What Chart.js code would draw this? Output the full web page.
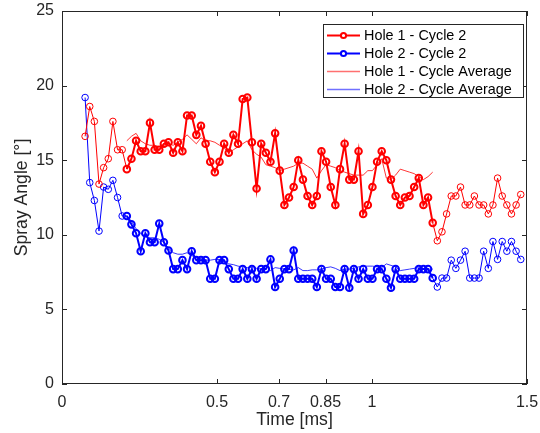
<!DOCTYPE html>
<html>
<head>
<meta charset="utf-8">
<script src="https://cdn.jsdelivr.net/npm/chart.js@4.4.0/dist/chart.umd.min.js"></script>
<style>
html, body { margin: 0; padding: 0; background: #fff; }
canvas { display: block; }
</style>
</head>
<body>
<canvas id="sprayChart" width="540" height="433"></canvas>
<script>
// sample times [ms]
var timeMs = [
  0.0745, 0.0895, 0.1044, 0.1194, 0.1343, 0.1493, 0.1642, 0.1792, 0.1941, 0.2091,
  0.2240, 0.2390, 0.2539, 0.2689, 0.2838, 0.2988, 0.3137, 0.3287, 0.3436, 0.3586,
  0.3735, 0.3885, 0.4034, 0.4184, 0.4333, 0.4483, 0.4632, 0.4782, 0.4931, 0.5081,
  0.5230, 0.5380, 0.5529, 0.5679, 0.5828, 0.5978, 0.6127, 0.6277, 0.6426, 0.6576,
  0.6725, 0.6875, 0.7024, 0.7174, 0.7323, 0.7473, 0.7622, 0.7772, 0.7921, 0.8071,
  0.8220, 0.8370, 0.8519, 0.8669, 0.8818, 0.8968, 0.9117, 0.9267, 0.9416, 0.9566,
  0.9715, 0.9865, 1.0014, 1.0164, 1.0313, 1.0463, 1.0612, 1.0762, 1.0911, 1.1061,
  1.1210, 1.1360, 1.1509, 1.1659, 1.1808, 1.1958, 1.2107, 1.2257, 1.2406, 1.2556,
  1.2705, 1.2855, 1.3004, 1.3154, 1.3303, 1.3453, 1.3602, 1.3752, 1.3901, 1.4051,
  1.4200, 1.4350, 1.4499, 1.4649, 1.4798
];

var hole1Cycle2 = [
  16.6, 18.6, 17.6, 13.4, 14.5, 15.1, 17.6, 15.7, 15.7, 14.4,
  15.1, 16.3, 15.6, 15.6, 17.5, 15.7, 15.7, 16.1, 16.2, 15.5,
  16.2, 15.6, 18.0, 18.0, 16.7, 17.3, 16.1, 14.9, 14.2, 14.9,
  16.1, 15.5, 16.7, 16.1, 19.1, 19.2, 16.2, 13.1, 16.1, 15.5,
  14.9, 16.8, 14.3, 12.0, 12.5, 13.2, 15.0, 13.7, 12.6, 12.0,
  12.6, 15.6, 14.9, 13.2, 12.0, 14.4, 16.1, 13.7, 13.7, 15.6,
  11.4, 12.0, 13.2, 14.9, 15.6, 15.0, 13.7, 12.6, 12.0, 12.5,
  12.6, 13.2, 13.8, 12.0, 12.5, 10.8, 9.6, 10.2, 11.4, 12.6,
  12.6, 13.2, 12.0, 12.0, 12.6, 12.0, 12.0, 11.4, 12.0, 13.8,
  12.6, 12.0, 11.4, 12.0, 12.7
];

var hole2Cycle2 = [
  19.2, 13.5, 12.3, 10.25, 13.2, 13.05, 13.65, 12.5, 11.26, 11.26,
  10.7, 10.1, 8.9, 10.1, 9.5, 9.5, 10.75, 9.5, 8.95, 7.7,
  7.7, 8.3, 7.7, 8.9, 8.3, 8.3, 8.3, 7.05, 7.05, 8.3,
  8.3, 7.7, 7.05, 7.05, 7.7, 7.05, 7.7, 7.05, 7.7, 7.7,
  8.35, 6.5, 7.05, 7.7, 7.7, 8.95, 7.05, 7.05, 7.05, 7.05,
  6.5, 7.7, 7.05, 7.05, 6.5, 6.5, 7.7, 6.45, 7.7, 7.05,
  7.7, 7.05, 7.05, 7.7, 7.7, 7.05, 6.45, 7.7, 7.05, 7.05,
  7.05, 7.05, 7.7, 7.7, 7.7, 7.1, 6.5, 7.1, 7.1, 8.3,
  7.75, 8.3, 8.9, 7.1, 7.1, 7.1, 8.9, 7.75, 9.55, 8.35,
  9.55, 8.9, 9.55, 8.9, 8.35
];

// averaging window (sample indices) - drawn bold on the cycle traces
var windowFrom = 9;
var windowTo = 75;

var hole1Average = [
  16.3, 16.6, 16.8, 16.3, 16.1, 16.0, 16.0, 15.9, 16.0, 16.1,
  16.0, 16.2, 16.4, 16.7, 16.4, 16.1, 16.5, 16.3, 16.3, 16.2,
  16.0, 15.8, 15.5, 15.7, 15.9, 16.1, 16.3, 15.7, 15.4, 15.2,
  14.7, 14.6, 14.5, 14.3, 14.4, 14.5, 14.6, 14.8, 14.8, 14.6,
  14.4, 13.8, 14.3, 14.7, 14.6, 14.5, 14.3, 14.2, 14.1, 14.0,
  14.0, 14.0, 14.3, 14.3, 14.7, 15.1, 13.8, 13.7, 14.0, 14.4,
  14.3, 14.2, 14.1, 13.9, 13.7, 13.9, 14.2
];

var hole2Average = [
  11.3, 10.9, 10.4, 10.1, 9.9, 9.8, 9.8, 9.7, 9.5, 9.1,
  8.8, 8.7, 8.7, 8.8, 8.6, 8.5, 8.4, 8.3, 8.3, 8.35,
  8.35, 8.2, 8.05, 8.0, 7.9, 7.85, 7.8, 7.8, 7.75, 7.7,
  7.9, 7.6, 7.8, 7.75, 7.7, 7.7, 7.65, 7.8, 7.6, 7.6,
  7.65, 7.65, 7.7, 7.8, 7.85, 7.75, 7.6, 7.7, 7.7, 7.75,
  7.85, 7.9, 7.9, 7.9, 7.85, 7.8, 8.05, 7.95, 7.85, 7.6,
  7.65, 7.7, 7.75, 7.8, 7.75, 7.7, 7.7
];

var seriesLabels = ['Hole 1 - Cycle 2', 'Hole 2 - Cycle 2', 'Hole 1 - Cycle Average', 'Hole 2 - Cycle Average'];
var xTickValues = [0, 0.5, 0.7, 0.85, 1, 1.5];
var yTickValues = [0, 5, 10, 15, 20, 25];

var axisColor = '#262626';
var fontFamily = '"Liberation Sans", Arial, Helvetica, sans-serif';

function toPoints(times, values) {
    return values.map(function (v, i) { return { x: times[i], y: v }; });
}
function inWindow(i) { return i >= windowFrom && i <= windowTo; }

var avgTimes = timeMs.slice(windowFrom, windowTo + 1);

function cycleDataset(label, values, color) {
    return {
        label: label,
        data: toPoints(timeMs, values),
        borderColor: color,
        backgroundColor: 'transparent',
        borderWidth: 1,
        segment: {
            borderWidth: function (c) { return inWindow(c.p0DataIndex) && inWindow(c.p1DataIndex) ? 2 : 1; }
        },
        pointStyle: 'circle',
        pointRadius: 3.3,
        pointBorderColor: color,
        pointBackgroundColor: 'transparent',
        pointBorderWidth: function (c) { return inWindow(c.dataIndex) ? 2 : 1; },
        marker: true,
        legendColor: color,
        order: 1
    };
}

function averageDataset(label, values, color, lightColor) {
    return {
        label: label,
        data: toPoints(avgTimes, values),
        borderColor: color,
        backgroundColor: 'transparent',
        borderWidth: 0.8,
        pointRadius: 0,
        marker: false,
        legendColor: lightColor,
        order: 2
    };
}

// no extra room for the outer tick labels, the plot box is placed by hand
function fixAxis(scale, size) {
    if (scale.isHorizontal()) scale.height = size; else scale.width = size;
    scale.paddingTop = 0;
    scale.paddingBottom = 0;
    scale.paddingLeft = 0;
    scale.paddingRight = 0;
}

// box, inward ticks on all sides and a boxed legend, MATLAB style
var matlabFrame = {
    id: 'matlabFrame',
    afterDraw: function (chart) {
        var ctx = chart.ctx, a = chart.chartArea;
        var xs = chart.scales.x, ys = chart.scales.y;
        var tl = 5;
        ctx.save();
        ctx.strokeStyle = axisColor;
        ctx.lineWidth = 1;
        ctx.strokeRect(a.left + 0.5, a.top + 0.5, a.right - a.left - 1, a.bottom - a.top - 1);
        ctx.beginPath();
        xTickValues.forEach(function (v) {
            var px = Math.round(xs.getPixelForValue(v)) + 0.5;
            ctx.moveTo(px, a.bottom); ctx.lineTo(px, a.bottom - tl);
            ctx.moveTo(px, a.top); ctx.lineTo(px, a.top + tl);
        });
        yTickValues.forEach(function (v) {
            var py = Math.round(ys.getPixelForValue(v)) + 0.5;
            ctx.moveTo(a.left, py); ctx.lineTo(a.left + tl, py);
            ctx.moveTo(a.right, py); ctx.lineTo(a.right - tl, py);
        });
        ctx.stroke();

        // legend
        var w = 200, h = 73;
        var lx = Math.round(a.right - 4 - w), ly = Math.round(a.top + 13);
        ctx.fillStyle = '#fff';
        ctx.fillRect(lx, ly, w, h);
        ctx.strokeStyle = axisColor;
        ctx.lineWidth = 1;
        ctx.strokeRect(lx + 0.5, ly + 0.5, w, h);
        ctx.font = '14.4px ' + fontFamily;
        ctx.textBaseline = 'middle';
        ctx.textAlign = 'left';
        chart.data.datasets.forEach(function (ds, k) {
            var ry = ly + 11.5 + k * 18;
            ctx.strokeStyle = ds.legendColor;
            ctx.lineWidth = ds.marker ? 2 : 1.5;
            ctx.beginPath();
            ctx.moveTo(lx + 4, ry); ctx.lineTo(lx + 37, ry);
            ctx.stroke();
            if (ds.marker) {
                ctx.beginPath();
                ctx.arc(lx + 20.5, ry, 2.6, 0, Math.PI * 2);
                ctx.fillStyle = '#fff';
                ctx.fill();
                ctx.stroke();
            }
            ctx.fillStyle = '#000';
            ctx.fillText(ds.label, lx + 41, ry + 0.5);
        });
        ctx.restore();
    }
};

new Chart(document.getElementById('sprayChart').getContext('2d'), {
    type: 'line',
    data: {
        datasets: [
            cycleDataset(seriesLabels[0], hole1Cycle2, '#ff0000'),
            cycleDataset(seriesLabels[1], hole2Cycle2, '#0000ff'),
            averageDataset(seriesLabels[2], hole1Average, '#ff0000', '#ff7070'),
            averageDataset(seriesLabels[3], hole2Average, '#0000ff', '#7070ff')
        ]
    },
    options: {
        responsive: false,
        devicePixelRatio: 1,
        animation: false,
        events: [],
        layout: { padding: { left: 0, top: 11, right: 13, bottom: 0 } },
        plugins: {
            legend: { display: false },
            tooltip: { enabled: false }
        },
        scales: {
            x: {
                type: 'linear',
                min: 0,
                max: 1.5,
                grid: { display: false, drawTicks: false },
                border: { display: false },
                afterBuildTicks: function (scale) {
                    scale.ticks = xTickValues.map(function (v) { return { value: v }; });
                },
                afterFit: function (scale) { fixAxis(scale, 49); },
                ticks: {
                    autoSkip: false,
                    maxRotation: 0,
                    padding: 9,
                    color: axisColor,
                    font: { family: fontFamily, size: 16 },
                    callback: function (v) { return String(v); }
                },
                title: {
                    display: true,
                    text: 'Time [ms]',
                    color: axisColor,
                    font: { family: fontFamily, size: 17.6 },
                    padding: { top: 0, bottom: 2 }
                }
            },
            y: {
                min: 0,
                max: 25,
                grid: { display: false, drawTicks: false },
                border: { display: false },
                afterBuildTicks: function (scale) {
                    scale.ticks = yTickValues.map(function (v) { return { value: v }; });
                },
                afterFit: function (scale) { fixAxis(scale, 62); },
                ticks: {
                    padding: 8,
                    color: axisColor,
                    font: { family: fontFamily, size: 16 }
                },
                title: {
                    display: true,
                    text: 'Spray Angle [°]',
                    color: axisColor,
                    font: { family: fontFamily, size: 17.6 },
                    padding: { top: 12, bottom: 0 }
                }
            }
        }
    },
    plugins: [matlabFrame]
});
</script>
</body>
</html>
